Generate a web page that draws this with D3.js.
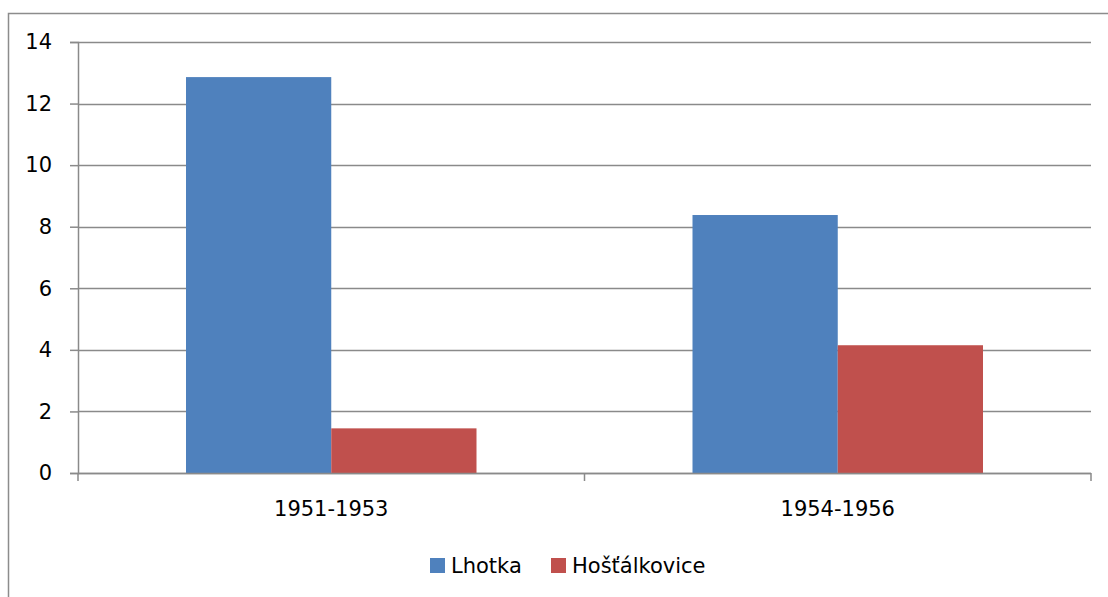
<!DOCTYPE html>
<html>
<head>
<meta charset="utf-8">
<script src="https://cdn.jsdelivr.net/npm/d3@7"></script>
<style>
  body { margin: 0; background: #fff; }
  text { font-family: "DejaVu Sans", sans-serif; fill: #000; }
</style>
</head>
<body>
<div id="chart"></div>
<script>
// Data
const categories = ["1951-1953", "1954-1956"];
const seriesNames = ["Lhotka", "Hošťálkovice"];
const lhotka = [12.86, 8.38];
const hostalkovice = [1.45, 4.15];
const yTicks = [0, 2, 4, 6, 8, 10, 12, 14];

const colors = ["#4F81BD", "#C0504D"];

const W = 1108, H = 597;
const margin = { top: 42, right: 17, bottom: 124, left: 78 };
const width = W - margin.left - margin.right,
      height = H - margin.top - margin.bottom;

const svg = d3.select("#chart")
    .append("svg")
    .attr("width", W)
    .attr("height", H);

// outer chart frame (runs off the right and bottom edges)
svg.append("rect")
    .attr("x", 8.5)
    .attr("y", 13.5)
    .attr("width", W + 20)
    .attr("height", H + 20)
    .attr("fill", "none")
    .attr("stroke", "#8c8c8c")
    .attr("stroke-width", 1.5);

const g = svg.append("g")
    .attr("transform", "translate(" + margin.left + "," + margin.top + ")");

// scales
const x0 = d3.scaleBand()
    .domain(categories)
    .range([0, width])
    .paddingInner(0)
    .paddingOuter(0);

const x1 = d3.scaleBand()
    .domain(seriesNames)
    .range([108, x0.bandwidth() - 108]);

const y = d3.scaleLinear()
    .domain([0, 14])
    .range([height, 0]);

// gridlines
g.append("g")
    .selectAll("line")
    .data(yTicks)
    .enter()
    .append("line")
    .attr("x1", 0)
    .attr("x2", width)
    .attr("y1", d => Math.round(y(d)) + 0.5)
    .attr("y2", d => Math.round(y(d)) + 0.5)
    .attr("stroke", "#8a8a8a")
    .attr("stroke-width", 1.5);

// y axis
const yAxis = g.append("g")
    .call(d3.axisLeft(y).tickValues(yTicks).tickSize(8).tickPadding(18).tickFormat(d3.format("d")));
yAxis.select(".domain").attr("stroke", "#8a8a8a").attr("stroke-width", 1.5);
yAxis.selectAll(".tick line").attr("stroke", "#8a8a8a").attr("stroke-width", 1.5);
yAxis.selectAll(".tick text")
    .style("font-size", "21px")
    .style("font-family", "'DejaVu Sans', sans-serif")
    .attr("fill", "#000");

// bars
const rows = categories.map((c, i) => ({ cat: c, values: [lhotka[i], hostalkovice[i]] }));

const groups = g.append("g")
    .selectAll("g")
    .data(rows)
    .enter()
    .append("g")
    .attr("transform", d => "translate(" + x0(d.cat) + ",0)");

groups.selectAll("rect")
    .data(d => d.values.map((v, j) => ({ name: seriesNames[j], value: v, j: j })))
    .enter()
    .append("rect")
    .attr("x", d => x1(d.name))
    .attr("width", x1.bandwidth())
    .attr("y", d => y(d.value))
    .attr("height", d => height - y(d.value))
    .attr("fill", d => colors[d.j]);

// x axis
const xAxis = g.append("g")
    .attr("transform", "translate(0," + height + ")");
xAxis.append("line")
    .attr("x1", 0).attr("x2", width)
    .attr("y1", 0.5).attr("y2", 0.5)
    .attr("stroke", "#8a8a8a")
    .attr("stroke-width", 1.5);
xAxis.selectAll(".xtick")
    .data([0, 1, 2])
    .enter()
    .append("line")
    .attr("x1", d => d * x0.bandwidth())
    .attr("x2", d => d * x0.bandwidth())
    .attr("y1", 0)
    .attr("y2", 8)
    .attr("stroke", "#8a8a8a")
    .attr("stroke-width", 1.5);
xAxis.selectAll(".xlabel")
    .data(categories)
    .enter()
    .append("text")
    .attr("x", d => x0(d) + x0.bandwidth() / 2)
    .attr("y", 43)
    .attr("text-anchor", "middle")
    .style("font-size", "21px")
    .text(d => d);

// legend
const legend = svg.append("g");
const legendX = [430, 551];
seriesNames.forEach((name, i) => {
    legend.append("rect")
        .attr("x", legendX[i])
        .attr("y", 558)
        .attr("width", 15)
        .attr("height", 15)
        .attr("fill", colors[i]);
    legend.append("text")
        .attr("x", legendX[i] + 21)
        .attr("y", 573)
        .style("font-size", "21px")
        .text(name);
});
</script>
</body>
</html>
